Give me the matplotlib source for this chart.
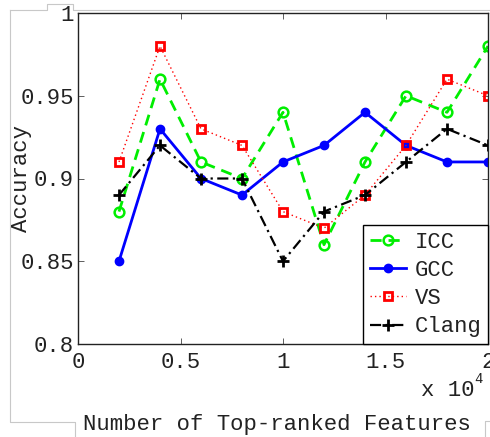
import matplotlib
matplotlib.use("Agg")
import matplotlib.pyplot as plt
from matplotlib.lines import Line2D

# Number of top-ranked features used for training
n_features = [2000, 4000, 6000, 8000, 10000, 12000, 14000, 16000, 18000, 20000]

# Classification accuracy per compiler
acc_icc = [0.88, 0.96, 0.91, 0.90, 0.94, 0.86, 0.91, 0.95, 0.94, 0.98]
acc_gcc = [0.85, 0.93, 0.90, 0.89, 0.91, 0.92, 0.94, 0.92, 0.91, 0.91]
acc_vs = [0.91, 0.98, 0.93, 0.92, 0.88, 0.87, 0.89, 0.92, 0.96, 0.95]
acc_clang = [0.89, 0.92, 0.90, 0.90, 0.85, 0.88, 0.89, 0.91, 0.93, 0.92]

x_ticks = [0, 5000, 10000, 15000, 20000]
x_tick_labels = ["0", "0.5", "1", "1.5", "2"]
y_ticks = [0.80, 0.85, 0.90, 0.95, 1.00]
y_tick_labels = ["0.8", "0.85", "0.9", "0.95", "1"]

FONT = "Liberation Mono"
FS = 16
TXT = "#222222"

W, H = 490, 437
fig = plt.figure(figsize=(W / 100, H / 100), dpi=100)
ax = fig.add_axes([78 / W, 1 - 344 / H, (488 - 78) / W, (344 - 13) / H])

ax.plot(n_features, acc_icc, color="#00ee00", linestyle=(0, (4, 2.5)), linewidth=2,
        marker="o", markersize=7, markerfacecolor="none", markeredgewidth=1.8,
        label="ICC")
ax.plot(n_features, acc_gcc, color="#0000ff", linestyle="-", linewidth=2,
        marker="o", markersize=6, markerfacecolor="#0000ff", label="GCC")
ax.plot(n_features, acc_vs, color="#ff0000", linestyle=(0, (1, 2.2)), linewidth=1,
        marker="s", markersize=6, markerfacecolor="none", markeredgewidth=2,
        label="VS")
ax.plot(n_features, acc_clang, color="black", linestyle=(0, (5, 2, 1, 2)), linewidth=1.6,
        marker="+", markersize=8, markeredgewidth=2, label="Clang")

ax.set_xlim(0, 20000)
ax.set_ylim(0.8, 1.0)
ax.set_xticks(x_ticks)
ax.set_xticklabels(x_tick_labels, fontfamily=FONT, fontsize=FS, color=TXT)
ax.set_yticks(y_ticks)
ax.set_yticklabels(y_tick_labels, fontfamily=FONT, fontsize=FS, color=TXT)
ax.tick_params(direction="in", length=4, width=0.6, top=True, right=True,
               color="#444444")
ax.tick_params(axis="x", pad=6)
ax.tick_params(axis="y", pad=3)
for s in ax.spines.values():
    s.set_linewidth(1)
    s.set_color("#222222")

fig.text(22 / W, 1 - 178 / H, "Accuracy", fontfamily=FONT, fontsize=FS, color=TXT,
         rotation=90, ha="center", va="center")

leg = ax.legend(loc="lower right", borderaxespad=0,
                prop={"family": FONT, "size": FS},
                fancybox=False, framealpha=1, edgecolor="black",
                handlelength=1.6, handletextpad=0.4, labelspacing=0.32,
                borderpad=0.3)
leg.get_frame().set_linewidth(1)
for t in leg.get_texts():
    t.set_color(TXT)

# Scale factor for the x axis
fig.text(421 / W, 1 - 396 / H, "x 10", fontfamily=FONT, fontsize=FS, color=TXT,
         ha="left", va="baseline")
fig.text(474 / W, 1 - 383 / H, "4", fontfamily=FONT, fontsize=10, color=TXT,
         ha="left", va="baseline")

fig.text(277 / W, 1 - 430 / H, "Number of Top-ranked Features", fontfamily=FONT,
         fontsize=FS, color=TXT, ha="center", va="baseline")

# Light gray window frame around the figure
frame_c = "#c8c8c8"
def fl(xs, ys):
    fig.add_artist(Line2D([x / W for x in xs], [1 - y / H for y in ys],
                          color=frame_c, linewidth=0.8))
fl([10, 10, 75, 75], [10, 422, 422, 437])
fl([10, 47, 47, 73, 73, 490], [10, 10, 4, 4, 10, 10])
fl([485, 485, 490], [437, 421, 421])

fig.savefig("out.png", dpi=100)
